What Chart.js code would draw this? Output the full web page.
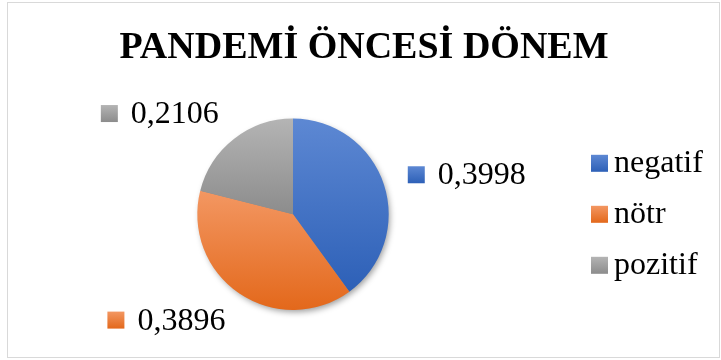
<!DOCTYPE html>
<html>
<head>
<meta charset="utf-8">
<title>Pandemi Öncesi Dönem</title>
<script src="https://cdn.jsdelivr.net/npm/chart.js@4/dist/chart.umd.min.js"></script>
<style>
  html, body { margin: 0; padding: 0; background: #fff; }
</style>
</head>
<body>
<canvas id="pie" width="721" height="360"></canvas>
<script>
const chartTitle = 'PANDEMİ ÖNCESİ DÖNEM';
const categories = ['negatif', 'nötr', 'pozitif'];
const values = [0.3998, 0.3896, 0.2106];
const lightColors = ['#5d88d3', '#f39762', '#b4b4b4'];
const darkColors = ['#2d60b7', '#e3681b', '#8c8c8c'];

const serif = "'Liberation Serif', 'Times New Roman', serif";

// decimal comma, like the original
const fmt = v => v.toFixed(4).replace('.', ',');

// vertical gradient spanning each slice's own height
function sliceGradient(context) {
  const chart = context.chart;
  const area = chart.chartArea;
  const i = context.dataIndex;
  if (!area || i === undefined) return darkColors[i || 0];
  const data = context.dataset.data;
  const cx = (area.left + area.right) / 2;
  const cy = (area.top + area.bottom) / 2;
  const r = Math.min(area.right - area.left, area.bottom - area.top) / 2;
  const total = data.reduce((a, b) => a + b, 0);
  let before = 0;
  for (let k = 0; k < i; k++) before += data[k];
  const a0 = -Math.PI / 2 + 2 * Math.PI * before / total;
  const a1 = a0 + 2 * Math.PI * data[i] / total;
  let top = Math.min(cy, cy + r * Math.sin(a0), cy + r * Math.sin(a1));
  let bottom = Math.max(cy, cy + r * Math.sin(a0), cy + r * Math.sin(a1));
  [Math.PI / 2, 3 * Math.PI / 2].forEach(a => {
    if (a > a0 && a < a1) {
      top = Math.min(top, cy + r * Math.sin(a));
      bottom = Math.max(bottom, cy + r * Math.sin(a));
    }
  });
  const g = chart.ctx.createLinearGradient(0, top, 0, bottom);
  g.addColorStop(0, lightColors[i]);
  g.addColorStop(1, darkColors[i]);
  return g;
}

function swatch(ctx, i, x, y, size) {
  const g = ctx.createLinearGradient(0, y, 0, y + size);
  g.addColorStop(0, lightColors[i]);
  g.addColorStop(1, darkColors[i]);
  ctx.fillStyle = g;
  ctx.fillRect(x, y, size, size);
  ctx.fillStyle = '#000';
}

// frame around the whole picture
const frame = {
  id: 'frame',
  beforeDraw(chart) {
    const ctx = chart.ctx;
    ctx.save();
    ctx.strokeStyle = '#d9d9d9';
    ctx.lineWidth = 1;
    ctx.strokeRect(7.5, 2.5, 712, 355);
    ctx.restore();
  }
};

// soft shadow under the pie
const pieShadow = {
  id: 'pieShadow',
  beforeDatasetsDraw(chart) {
    const arc = chart.getDatasetMeta(0).data[0];
    if (!arc) return;
    const ctx = chart.ctx;
    ctx.save();
    ctx.shadowColor = 'rgba(0,0,0,0.4)';
    ctx.shadowBlur = 6;
    ctx.shadowOffsetX = 2;
    ctx.shadowOffsetY = 3;
    ctx.fillStyle = '#888';
    ctx.beginPath();
    ctx.arc(arc.x, arc.y, arc.outerRadius - 1, 0, Math.PI * 2);
    ctx.fill();
    ctx.restore();
  }
};

// value labels with a coloured square, placed outside each slice
const outsideLabels = {
  id: 'outsideLabels',
  afterDatasetsDraw(chart) {
    const ctx = chart.ctx;
    const ds = chart.data.datasets[0];
    ctx.save();
    ctx.font = '32px ' + serif;
    ctx.textBaseline = 'middle';
    ctx.textAlign = 'left';
    chart.getDatasetMeta(0).data.forEach((arc, i) => {
      const mid = (arc.startAngle + arc.endAngle) / 2;
      const px = arc.x + Math.cos(mid) * (arc.outerRadius + 25);
      const py = arc.y + Math.sin(mid) * (arc.outerRadius + 32);
      const text = fmt(ds.data[i]);
      const w = ctx.measureText(text).width;
      const left = Math.cos(mid) >= 0 ? px : px - w - 30;
      swatch(ctx, i, left, py - 8.5, 17);
      ctx.fillText(text, left + 30, py + 1);
    });
    ctx.restore();
  }
};

// legend on the right; the pie area is narrowed to make room for it
const sideLegend = {
  id: 'sideLegend',
  afterLayout(chart, args, opts) {
    chart.chartArea.right -= opts.width;
    chart.chartArea.width -= opts.width;
  },
  afterDraw(chart, args, opts) {
    const ctx = chart.ctx;
    const area = chart.chartArea;
    const x = area.right + opts.gap;
    const cy = (area.top + area.bottom) / 2;
    const n = chart.data.labels.length;
    ctx.save();
    ctx.font = '32px ' + serif;
    ctx.textBaseline = 'middle';
    ctx.textAlign = 'left';
    chart.data.labels.forEach((label, i) => {
      const y = cy + (i - (n - 1) / 2) * opts.rowHeight;
      swatch(ctx, i, x, y - 8.5, 17);
      ctx.fillText(label, x + 23, y);
    });
    ctx.restore();
  }
};

new Chart(document.getElementById('pie'), {
  type: 'pie',
  data: {
    labels: categories,
    datasets: [{
      data: values,
      backgroundColor: sliceGradient,
      borderWidth: 0
    }]
  },
  options: {
    responsive: false,
    animation: false,
    events: [],
    layout: { padding: { left: 7, right: 0, top: 0, bottom: 50 } },
    plugins: {
      title: {
        display: true,
        text: chartTitle,
        color: '#000',
        font: { family: serif, size: 38, weight: 'bold', lineHeight: 1.2 },
        padding: { top: 25, bottom: 48 }
      },
      legend: { display: false },
      tooltip: { enabled: false },
      sideLegend: { width: 142, gap: 12, rowHeight: 51 }
    }
  },
  plugins: [frame, pieShadow, outsideLabels, sideLegend]
});
</script>
</body>
</html>
